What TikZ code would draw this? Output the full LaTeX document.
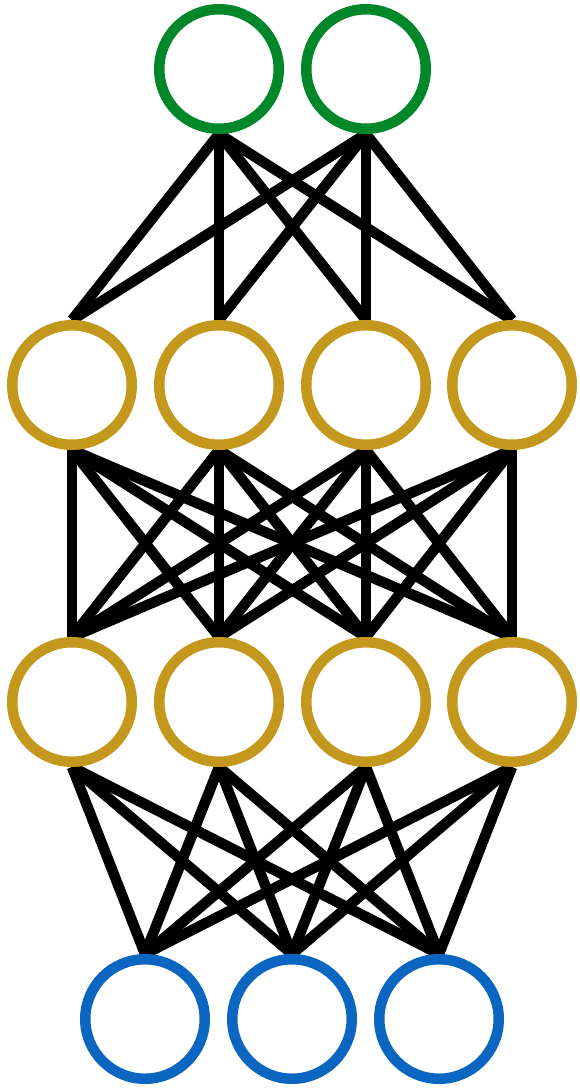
\documentclass[tikz,border=0pt]{standalone}
\usetikzlibrary{backgrounds}
\definecolor{outgreen}{RGB}{0,135,42}
\definecolor{hidgold}{RGB}{196,152,28}
\definecolor{inblue}{RGB}{10,102,192}
\tikzset{
  neuron/.style={circle, draw, fill=white, line width=10.5pt, minimum size=119.5pt, inner sep=0pt},
  outn/.style={neuron, draw=outgreen},
  hidn/.style={neuron, draw=hidgold},
  inn/.style={neuron, draw=inblue},
  conn/.style={line width=10.5pt, black}
}
\begin{document}
\begin{tikzpicture}[x=1pt,y=-1pt]
\useasboundingbox (0,0) rectangle (579,1089);
\node[outn] (o1) at (219,69) {};
\node[outn] (o2) at (366,69) {};
\node[hidn] (a1) at (72,385) {};
\node[hidn] (a2) at (219,385) {};
\node[hidn] (a3) at (366,385) {};
\node[hidn] (a4) at (512,385) {};
\node[hidn] (b1) at (72,702) {};
\node[hidn] (b2) at (219,702) {};
\node[hidn] (b3) at (366,702) {};
\node[hidn] (b4) at (512,702) {};
\node[inn] (i1) at (145,1019) {};
\node[inn] (i2) at (292,1019) {};
\node[inn] (i3) at (439,1019) {};
\begin{scope}[on background layer]
\foreach \u in {o1,o2}{\foreach \l in {a1,a2,a3,a4}{\draw[conn] (\u.south) -- (\l.north);}}
\foreach \u in {a1,a2,a3,a4}{\foreach \l in {b1,b2,b3,b4}{\draw[conn] (\u.south) -- (\l.north);}}
\foreach \u in {b1,b2,b3,b4}{\foreach \l in {i1,i2,i3}{\draw[conn] (\u.south) -- (\l.north);}}
\end{scope}
\end{tikzpicture}
\end{document}
